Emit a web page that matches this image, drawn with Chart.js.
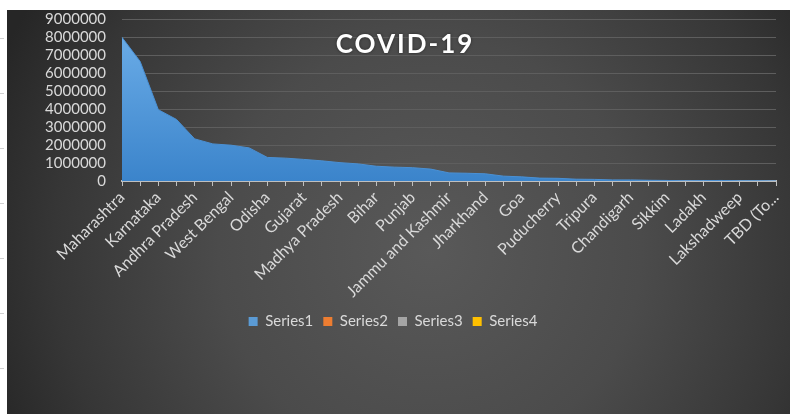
<!DOCTYPE html>
<html>
<head>
<meta charset="utf-8">
<script src="https://cdn.jsdelivr.net/npm/chart.js@4/dist/chart.umd.min.js"></script>
<style>
  html, body { margin: 0; padding: 0; background: #ffffff; }
  #wrap { position: relative; width: 795px; height: 414px; }
  #title {
    position: absolute; left: 305px; width: 200px; top: 27px;
    text-align: center; color: #ffffff; font-family: Lato, "Open Sans", sans-serif;
    font-weight: 700; font-size: 26px; letter-spacing: 2px; line-height: 32px;
    text-shadow: 0 0 3px rgba(0,0,0,0.5);
  }
</style>
</head>
<body>
<div id="wrap">
  <canvas id="c" width="795" height="414"></canvas>
  <div id="title">COVID-19</div>
</div>
<script>
const categories = [
  "Maharashtra", "Kerala", "Karnataka", "Tamil Nadu", "Andhra Pradesh", "Uttar Pradesh",
  "West Bengal", "Delhi", "Odisha", "Chhattisgarh", "Gujarat", "Rajasthan",
  "Madhya Pradesh", "Haryana", "Bihar", "Telangana", "Punjab", "Assam",
  "Jammu and Kashmir", "Uttarakhand", "Jharkhand", "Himachal Pradesh", "Goa", "Manipur",
  "Puducherry", "Meghalaya", "Tripura", "Arunachal Pradesh", "Chandigarh", "Mizoram",
  "Sikkim", "Dadra and Nagar Haveli and Daman and Diu", "Ladakh", "Nagaland", "Lakshadweep",
  "Andaman and Nicobar Islands", "TBD (To be updated)"
];
const series1 = [
  7980000, 6640000, 3960000, 3420000, 2340000, 2060000,
  1990000, 1840000, 1310000, 1270000, 1200000, 1120000,
  1020000, 950000, 820000, 770000, 740000, 660000,
  450000, 430000, 400000, 270000, 230000, 160000,
  150000, 100000, 90000, 60000, 60000, 40000,
  30000, 10000, 20000, 30000, 10000, 10000, 0
];
const series2 = [];
const series3 = [];
const series4 = [];
const seriesNames = ["Series1", "Series2", "Series3", "Series4"];
const seriesColors = ["#5b9bd5", "#ed7d31", "#a5a5a5", "#ffc000"];
const yTicks = [0, 1000000, 2000000, 3000000, 4000000, 5000000, 6000000, 7000000, 8000000, 9000000];

const bgPlugin = {
  id: 'bg',
  beforeDraw(chart) {
    const ctx = chart.ctx;
    ctx.save();
    ctx.fillStyle = '#ffffff';
    ctx.fillRect(0, 0, chart.width, chart.height);
    const g = ctx.createRadialGradient(430, 250, 0, 430, 250, 470);
    g.addColorStop(0, '#595959');
    g.addColorStop(0.45, '#4b4b4b');
    g.addColorStop(0.8, '#363636');
    g.addColorStop(1, '#262626');
    ctx.fillStyle = g;
    ctx.fillRect(7, 10, 783, 404);
    ctx.strokeStyle = '#d0d0d0';
    ctx.lineWidth = 1;
    for (let y = 38; y < 414; y += 55) {
      ctx.beginPath(); ctx.moveTo(0, y + 0.5); ctx.lineTo(4, y + 0.5); ctx.stroke();
    }
    ctx.restore();
  }
};

function areaFill(context) {
  const chart = context.chart;
  const area = chart.chartArea;
  if (!area) return seriesColors[0];
  const g = chart.ctx.createLinearGradient(0, area.top, 0, area.bottom);
  g.addColorStop(0, '#6fb0ea');
  g.addColorStop(1, '#3b84cb');
  return g;
}

new Chart(document.getElementById('c'), {
  type: 'line',
  data: {
    labels: categories,
    datasets: [
      { label: seriesNames[0], data: series1, fill: 'origin', backgroundColor: areaFill, borderColor: '#4a90d4', borderWidth: 1, pointRadius: 0, tension: 0 },
      { label: seriesNames[1], data: series2, fill: 'origin', backgroundColor: seriesColors[1], borderColor: seriesColors[1], pointRadius: 0 },
      { label: seriesNames[2], data: series3, fill: 'origin', backgroundColor: seriesColors[2], borderColor: seriesColors[2], pointRadius: 0 },
      { label: seriesNames[3], data: series4, fill: 'origin', backgroundColor: seriesColors[3], borderColor: seriesColors[3], pointRadius: 0 }
    ]
  },
  options: {
    responsive: false,
    animation: false,
    layout: { padding: { left: 10, right: 19, top: 19, bottom: 75 } },
    plugins: {
      title: { display: false },
      tooltip: { enabled: false },
      legend: {
        position: 'bottom',
        labels: {
          color: '#d9d9d9',
          font: { family: 'Lato', size: 15 },
          boxWidth: 9, boxHeight: 9, padding: 10,
          generateLabels(chart) {
            return chart.data.datasets.map((d, i) => ({
              text: d.label, fillStyle: seriesColors[i], strokeStyle: seriesColors[i],
              lineWidth: 0, hidden: false, datasetIndex: i, fontColor: '#d9d9d9'
            }));
          }
        }
      }
    },
    scales: {
      x: {
        type: 'category',
        offset: false,
        grid: { display: true, drawOnChartArea: false, drawTicks: true, tickLength: 5, color: '#bfbfbf', lineWidth: 1 },
        border: { display: true, color: '#bfbfbf', width: 2 },
        ticks: {
          autoSkip: false, maxRotation: 45, minRotation: 45, padding: 2,
          color: '#d9d9d9', font: { family: 'Lato', size: 16 },
          callback(value, index) {
            if (index % 2 !== 0) return '';
            const s = categories[index];
            return s.length > 18 ? s.slice(0, 7) + '...' : s;
          }
        },
        afterFit(scale) { scale.height = 123; scale.paddingLeft = 0; scale.paddingRight = 0; }
      },
      y: {
        min: 0, max: 9000000,
        afterBuildTicks(scale) { scale.ticks = yTicks.map(v => ({ value: v })); },
        grid: { color: '#5e5e5e', lineWidth: 1, drawTicks: false },
        border: { display: false },
        ticks: { autoSkip: false, color: '#d9d9d9', font: { family: 'Lato', size: 15 }, padding: 16, callback: v => String(v) },
        afterFit(scale) { scale.width = 112; scale.paddingTop = 0; scale.paddingBottom = 0; }
      }
    }
  },
  plugins: [bgPlugin]
});
</script>
</body>
</html>
